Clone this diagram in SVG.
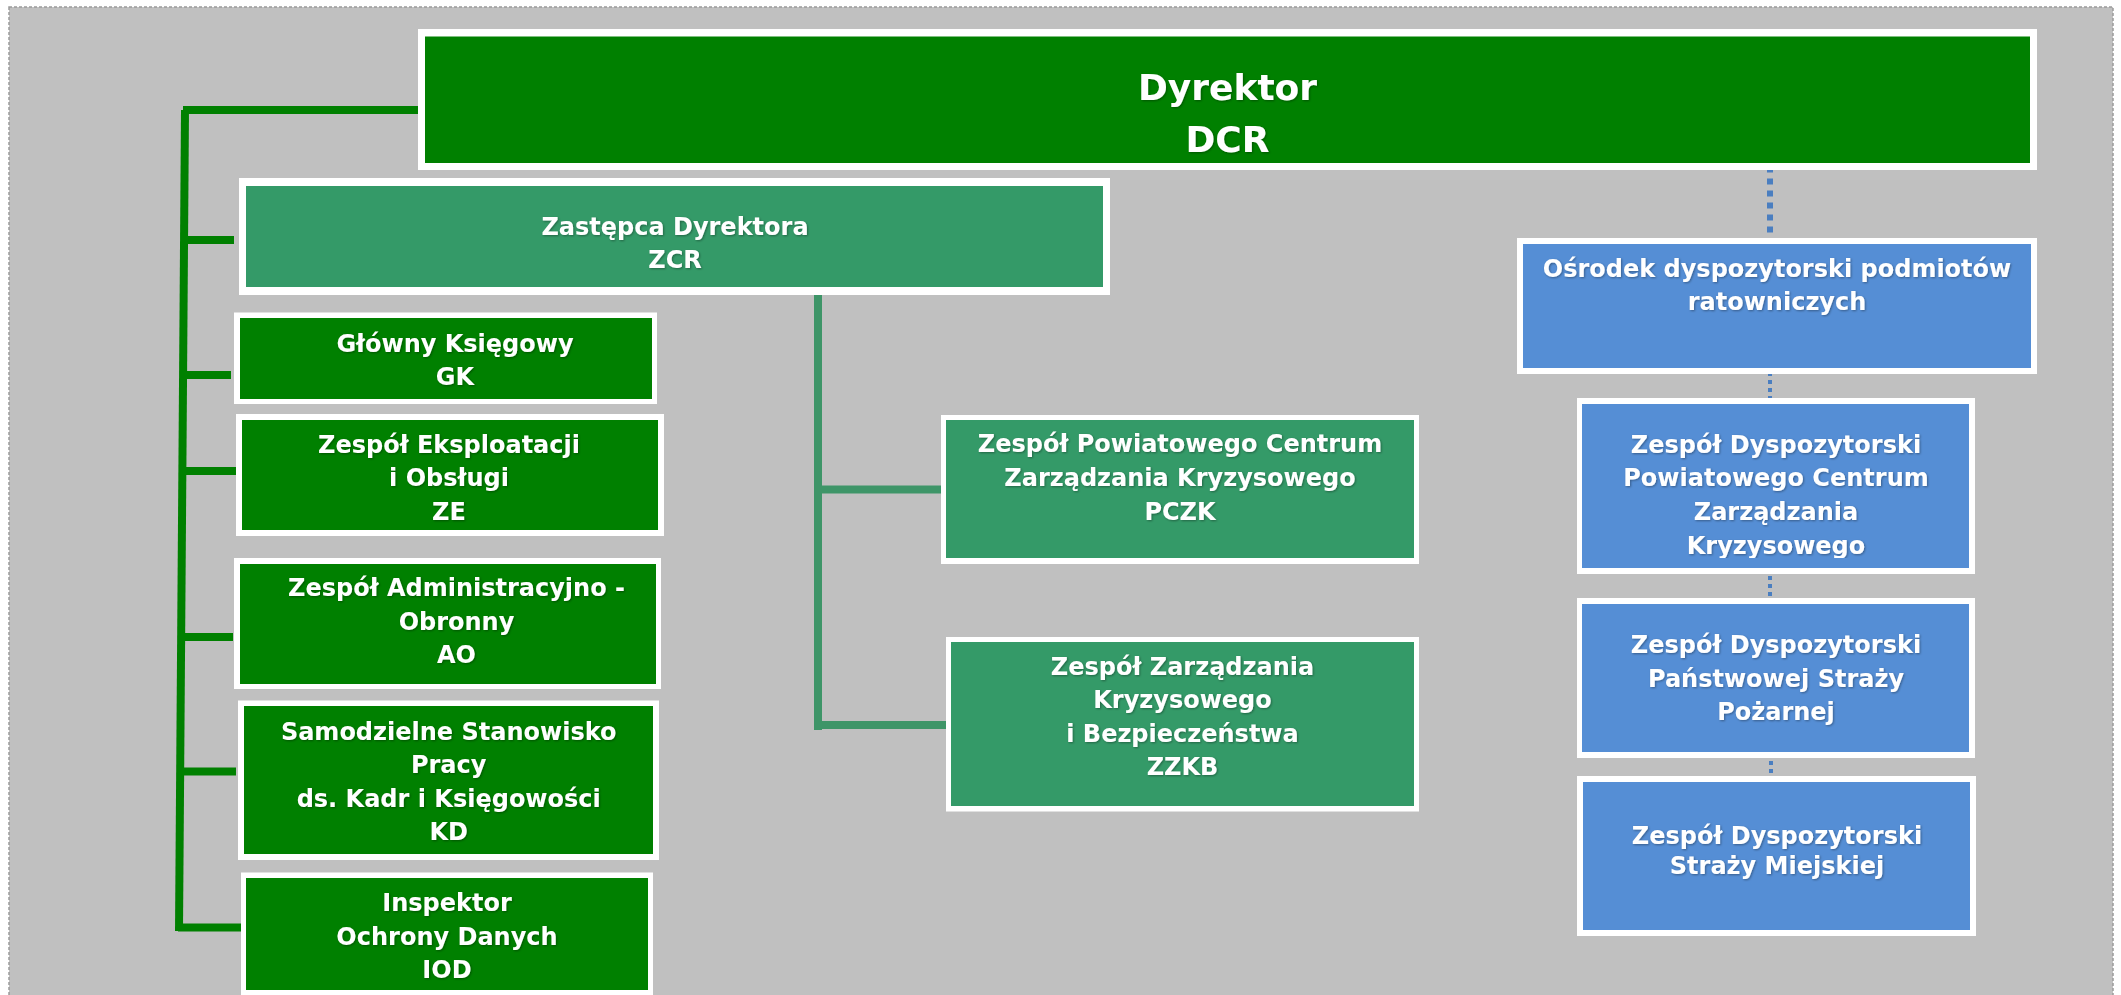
<svg xmlns="http://www.w3.org/2000/svg" width="2121" height="995" viewBox="0 0 2121 995">
<defs>
<style>
.frame{fill:#ffffff}
.dg{fill:#008000}
.mg{fill:#349A68}
.bl{fill:#558ED5}
.t{font-family:"DejaVu Sans","Verdana",sans-serif;font-weight:bold;font-size:24px;fill:#ffffff;text-anchor:middle;filter:url(#sh)}
.big{font-size:36px}
.trunk{stroke:#008000;stroke-width:8;fill:none}
.mtrunk{stroke:#3E9568;stroke-width:8;fill:none}
.dot1{stroke:#4A7EC0;stroke-width:6;stroke-dasharray:6 6;fill:none}
.dot2{stroke:#4A7EC0;stroke-width:4;stroke-dasharray:4 4;fill:none}
</style>
<filter id="sh" x="-10%" y="-30%" width="120%" height="160%">
<feDropShadow dx="1" dy="1" stdDeviation="0.8" flood-color="#000000" flood-opacity="0.35"/>
</filter>
<clipPath id="clipDP"><rect x="1582" y="404" width="387" height="154"/></clipPath>
</defs>
<rect x="0" y="0" width="2121" height="995" fill="#ffffff"/>
<rect x="9" y="7" width="2104" height="1010" fill="#C0C0C0" stroke="#9a9a9a" stroke-width="1.5" stroke-dasharray="3 2"/>

<g id="connectors">
<path class="trunk" d="M183 110 H420"/>
<path class="trunk" d="M185 110 L179 931"/>
<path class="trunk" d="M186 240 H234"/>
<path class="trunk" d="M185 375 H231"/>
<path class="trunk" d="M184 471 H239"/>
<path class="trunk" d="M183 637 H233"/>
<path class="trunk" d="M182 771.5 H236"/>
<path class="trunk" d="M178 927.5 H246"/>
<path class="mtrunk" d="M818 295 V730"/>
<path class="mtrunk" d="M818 489.5 H941"/>
<path class="mtrunk" d="M818 725 H947"/>
<path class="dot1" d="M1770 166.5 V240"/>
<path class="dot2" d="M1770 372 V399"/>
<path class="dot2" d="M1770 560 V598"/>
<path class="dot2" d="M1771 745 V778"/>
</g>

<g id="DCR">
<rect class="frame" x="418" y="29" width="1619" height="141"/>
<rect class="dg" x="425" y="36.5" width="1605" height="126.5"/>
<text class="t big" x="1227.5" y="100">Dyrektor</text>
<text class="t big" x="1227.5" y="151.5">DCR</text>
</g>

<g id="ZCR">
<rect class="frame" x="239" y="178" width="871" height="117"/>
<rect class="mg" x="246" y="186" width="857" height="101"/>
<text class="t" x="675" y="235">Zastępca Dyrektora</text>
<text class="t" x="675" y="268">ZCR</text>
</g>

<g id="GK">
<rect class="frame" x="234" y="312.5" width="423" height="91.5"/>
<rect class="dg" x="240" y="318" width="412" height="81"/>
<text class="t" x="455" y="351.7">Główny Księgowy</text>
<text class="t" x="455" y="384.5">GK</text>
</g>

<g id="ZE">
<rect class="frame" x="236" y="414" width="428" height="122"/>
<rect class="dg" x="242" y="420" width="416" height="110"/>
<text class="t" x="449" y="452.7">Zespół Eksploatacji</text>
<text class="t" x="449" y="486">i Obsługi</text>
<text class="t" x="449" y="519.5">ZE</text>
</g>

<g id="AO">
<rect class="frame" x="234" y="558" width="427" height="131"/>
<rect class="dg" x="240" y="564" width="416" height="120"/>
<text class="t" x="456.5" y="596">Zespół Administracyjno -</text>
<text class="t" x="456.5" y="629.5">Obronny</text>
<text class="t" x="456.5" y="663">AO</text>
</g>

<g id="KD">
<rect class="frame" x="238" y="700.5" width="421" height="159.5"/>
<rect class="dg" x="244" y="706" width="409" height="148"/>
<text class="t" x="448.7" y="740">Samodzielne Stanowisko</text>
<text class="t" x="448.7" y="773.3">Pracy</text>
<text class="t" x="448.7" y="806.7">ds. Kadr i Księgowości</text>
<text class="t" x="448.7" y="840">KD</text>
</g>

<g id="IOD">
<rect class="frame" x="241" y="872.5" width="412" height="130"/>
<rect class="dg" x="246" y="878" width="402" height="112"/>
<text class="t" x="447" y="911">Inspektor</text>
<text class="t" x="447" y="945">Ochrony Danych</text>
<text class="t" x="447" y="978">IOD</text>
</g>

<g id="PCZK">
<rect class="frame" x="941" y="415" width="478" height="149"/>
<rect class="mg" x="946" y="420" width="468" height="138"/>
<text class="t" x="1180" y="452">Zespół Powiatowego Centrum</text>
<text class="t" x="1180" y="486">Zarządzania Kryzysowego</text>
<text class="t" x="1180" y="519.8">PCZK</text>
</g>

<g id="ZZKB">
<rect class="frame" x="946" y="637" width="473" height="174.5"/>
<rect class="mg" x="951" y="642" width="463" height="164"/>
<text class="t" x="1182.5" y="675">Zespół Zarządzania</text>
<text class="t" x="1182.5" y="708.3">Kryzysowego</text>
<text class="t" x="1182.5" y="741.7">i Bezpieczeństwa</text>
<text class="t" x="1182.5" y="775.3">ZZKB</text>
</g>

<g id="ODP">
<rect class="frame" x="1517" y="238" width="520" height="136"/>
<rect class="bl" x="1523" y="244" width="508" height="124"/>
<text class="t" x="1777" y="276.7">Ośrodek dyspozytorski podmiotów</text>
<text class="t" x="1777" y="310">ratowniczych</text>
</g>

<g id="DPCZK">
<rect class="frame" x="1577" y="398" width="398" height="176"/>
<rect class="bl" x="1582" y="404" width="387" height="164"/>
<g clip-path="url(#clipDP)">
<text class="t" x="1776" y="452.7">Zespół Dyspozytorski</text>
<text class="t" x="1776" y="486.4">Powiatowego Centrum</text>
<text class="t" x="1776" y="520">Zarządzania</text>
<text class="t" x="1776" y="553.7">Kryzysowego</text>
</g>
</g>

<g id="PSP">
<rect class="frame" x="1577" y="598" width="398" height="160"/>
<rect class="bl" x="1582" y="604" width="387" height="148"/>
<text class="t" x="1776" y="653.3">Zespół Dyspozytorski</text>
<text class="t" x="1776" y="686.7">Państwowej Straży</text>
<text class="t" x="1776" y="720">Pożarnej</text>
</g>

<g id="SM">
<rect class="frame" x="1577" y="776" width="399" height="160"/>
<rect class="bl" x="1583" y="782" width="387" height="148"/>
<text class="t" x="1777" y="844.3">Zespół Dyspozytorski</text>
<text class="t" x="1777" y="874">Straży Miejskiej</text>
</g>
</svg>
